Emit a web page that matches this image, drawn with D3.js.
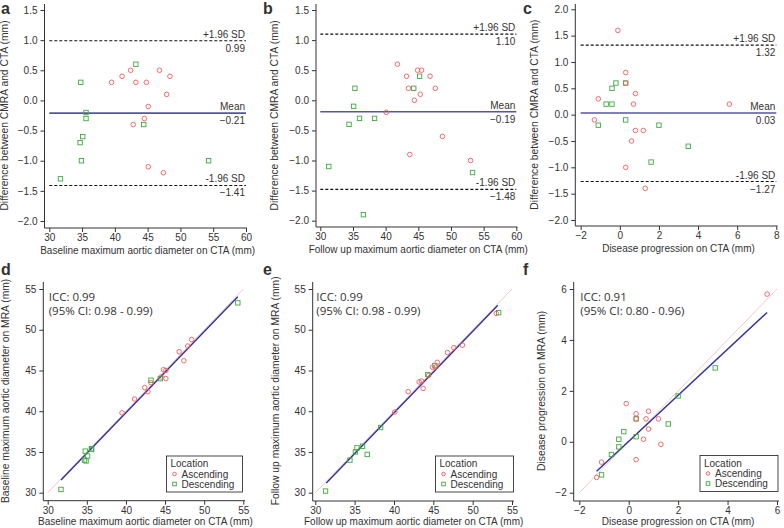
<!DOCTYPE html>
<html><head><meta charset="utf-8">
<script src="https://cdn.jsdelivr.net/npm/d3@7"></script>
<style>
body{margin:0;background:#fff;}
svg{display:block;}
text{font-family:"Liberation Sans",Arial,sans-serif;fill:#333;}
</style></head>
<body>
<svg id="c" width="784" height="528"></svg>
<script>
// ---------- DATA ----------
// Panel a: Bland-Altman baseline
const aAscX = [39.5,41.1,42.4,43.2,44.8,46.8,48.4,47.9,45.1,44.5,42.8,45.1,47.4];
const aAscY = [0.3,0.4,0.5,0.3,0.3,0.5,0.4,0.1,-0.1,-0.3,-0.4,-1.1,-1.2];
const aDesX = [34.8,43.2,35.6,35.6,35.1,34.7,34.9,31.7,44.4,54.3];
const aDesY = [0.3,0.6,-0.2,-0.3,-0.6,-0.7,-1.0,-1.3,-0.4,-1.0];
const aLimits = [0.99,-0.21,-1.41];
// Panel b: Bland-Altman follow up
const bAscX = [41.8,43.2,43.5,44.9,45.5,46.8,47.6,45.3,44.4,40.1,48.7,43.7,53.0];
const bAscY = [0.6,0.4,0.2,0.5,0.5,0.4,0.2,0.1,0.0,-0.2,-0.6,-0.9,-1.0];
const bDesX = [35.3,45.2,44.3,35.1,36.0,38.3,34.4,31.3,53.3,36.6];
const bDesY = [0.2,0.4,0.2,-0.1,-0.3,-0.3,-0.4,-1.1,-1.2,-1.9];
const bLimits = [1.10,-0.19,-1.48];
// Panel c: Bland-Altman progression
const cAscX = [-0.1,0.3,0.3,0.8,-1.1,0.7,-1.3,0.8,1.2,0.6,0.3,1.3,5.6];
const cAscY = [1.6,0.8,0.6,0.4,0.3,0.2,-0.1,-0.3,-0.3,-0.5,-1.0,-1.4,0.2];
const cDesX = [-0.2,0.3,-0.4,-0.7,-0.4,-1.1,0.3,2.0,1.6,3.5];
const cDesY = [0.6,0.6,0.5,0.2,0.2,-0.2,-0.1,-0.2,-0.9,-0.6];
const cLimits = [1.32,0.03,-1.27];
// Panel d: correlation baseline
const dAscX = [39.5,41.1,42.4,43.2,44.8,46.8,48.4,47.9,45.1,44.5,42.8,45.1,47.4];
const dAscY = [39.8,41.5,42.9,43.5,45.1,47.3,48.8,48.0,45.0,44.2,42.4,44.0,46.2];
const dDesX = [34.8,43.2,35.6,35.6,35.1,34.7,34.9,31.7,44.4,54.3];
const dDesY = [35.1,43.8,35.4,35.3,34.5,34.0,33.9,30.4,44.0,53.3];
const dFitX = [31.7,54.3], dFitY = [31.55,54.06];
const dIdent = [30,55];
const dICC = ["ICC: 0.99","(95% CI: 0.98 - 0.99)"];
// Panel e: correlation follow up
const eAscX = [41.8,43.2,43.5,44.9,45.5,46.8,47.6,45.3,44.4,40.1,48.7,43.7,53.0];
const eAscY = [42.4,43.6,43.7,45.4,46.0,47.2,47.8,45.4,44.4,39.9,48.1,42.8,52.0];
const eDesX = [35.3,45.2,44.3,35.1,36.0,38.3,34.4,31.3,53.3,36.6];
const eDesY = [35.5,45.6,44.5,35.0,35.7,38.0,34.0,30.2,52.1,34.7];
const eFitX = [31.4,53.2], eFitY = [31.2,53.0];
const eIdent = [30,55];
const eICC = ["ICC: 0.99","(95% CI: 0.98 - 0.99)"];
// Panel f: correlation progression
const fAscX = [-0.1,0.3,0.3,0.8,-1.1,0.7,-1.3,0.8,1.2,0.6,0.3,1.3,5.6];
const fAscY = [1.5,1.1,0.9,1.2,-0.8,0.9,-1.4,0.5,0.9,0.1,-0.7,-0.1,5.8];
const fDesX = [-0.2,0.3,-0.4,-0.7,-0.4,-1.1,0.3,2.0,1.6,3.5];
const fDesY = [0.4,0.9,0.1,-0.5,-0.2,-1.3,0.2,1.8,0.7,2.9];
const fFitX = [-1.3,5.6], fFitY = [-1.16,5.08];
const fIdent = [-2,6];
const fICC = ["ICC: 0.91","(95% CI: 0.80 - 0.96)"];
// Tick labels
const ticksX_ab = [30,35,40,45,50,55,60];
const ticksY_ab = [-2.0,-1.5,-1.0,-0.5,0.0,0.5,1.0,1.5];
const ticksX_c = [-2,0,2,4,6,8];
const ticksY_c = [-2.0,-1.5,-1.0,-0.5,0.0,0.5,1.0,1.5,2.0];
const ticks_de = [30,35,40,45,50,55];
const ticks_f = [-2,0,2,4,6];
const limitLabels = ["+1.96 SD","Mean","-1.96 SD"];
const legendTitle = "Location";
const legendItems = ["Ascending","Descending"];

// ---------- STYLE ----------
const RED = "#f25c5c", GREEN = "#3fa83f";
const svg = d3.select("#c");

function panel(o){
  const g = svg.append("g");
  const x = d3.scaleLinear().domain(o.xd).range(o.xr);
  const y = d3.scaleLinear().domain(o.yd).range(o.yr);
  // axis lines (L shape)
  g.append("line").attr("x1",o.ax).attr("x2",o.ax).attr("y1",o.top).attr("y2",o.bottom)
    .attr("stroke","#333").attr("stroke-width",1);
  g.append("line").attr("x1",o.ax).attr("x2",o.right).attr("y1",o.bottom).attr("y2",o.bottom)
    .attr("stroke","#333").attr("stroke-width",1);
  // axes
  const xa = g.append("g").attr("transform",`translate(0,${o.bottom})`)
    .call(d3.axisBottom(x).tickValues(o.xt).tickFormat(o.xf).tickSize(4).tickSizeOuter(0).tickPadding(2));
  const ya = g.append("g").attr("transform",`translate(${o.ax},0)`)
    .call(d3.axisLeft(y).tickValues(o.yt).tickFormat(o.yf).tickSize(4).tickSizeOuter(0).tickPadding(3));
  [xa,ya].forEach(a=>{
    a.select(".domain").remove();
    a.selectAll("line").attr("stroke","#333");
    a.selectAll("text").style("font-size","10px").attr("fill","#333");
  });
  // titles
  g.append("text").attr("x",(o.xr[0]+o.xr[1])/2).attr("y",o.bottom+o.tdy)
    .attr("text-anchor","middle").style("font-size","10px").text(o.xtitle);
  g.append("text").attr("transform",`translate(${o.ytx},${(o.yr[0]+o.yr[1])/2}) rotate(-90)`)
    .attr("text-anchor","middle").style("font-size","10.3px").text(o.ytitle);
  // panel letter
  g.append("text").attr("x",o.lx).attr("y",o.ly).style("font-size","16px").style("font-weight","bold")
    .attr("fill","#000").text(o.letter);

  if(o.limits){
    o.limits.forEach((v,i)=>{
      const mean = i===1;
      g.append("line").attr("x1",o.xr[0]).attr("x2",o.xr[1]).attr("y1",y(v)).attr("y2",y(v))
        .attr("stroke",mean?"#5555a8":"#111").attr("stroke-width",mean?1.6:1.1)
        .attr("stroke-dasharray",mean?null:"3,2");
      g.append("text").attr("x",o.xr[1]-1).attr("y",y(v)-3).attr("text-anchor","end")
        .style("font-size","10px").text(limitLabels[i]);
      g.append("text").attr("x",o.xr[1]-1).attr("y",y(v)+11).attr("text-anchor","end")
        .style("font-size","10px").text(d3.format(".2f")(v));
    });
  }
  if(o.ident){
    g.append("line").attr("x1",x(o.ident[0])).attr("y1",y(o.ident[0]))
      .attr("x2",x(o.ident[1])).attr("y2",y(o.ident[1]))
      .attr("stroke","#f2c9c9").attr("stroke-width",1);
    g.append("line").attr("x1",x(o.fitX[0])).attr("y1",y(o.fitY[0]))
      .attr("x2",x(o.fitX[1])).attr("y2",y(o.fitY[1]))
      .attr("stroke","#2f2fa0").attr("stroke-width",1.4);
    const t = g.append("text").attr("x",o.xr[0]+1).attr("y",o.yr[1]+12)
      .style("font-family","'Open Sans',sans-serif").style("font-size","11.5px").attr("fill","#222");
    t.append("tspan").attr("x",o.xr[0]+1).text(o.icc[0]);
    t.append("tspan").attr("x",o.xr[0]+1).attr("dy",13.5).text(o.icc[1]);
  }
  // points
  g.selectAll(".sq").data(d3.zip(o.dx,o.dy)).join("rect")
    .attr("x",d=>x(d[0])-2.2).attr("y",d=>y(d[1])-2.2).attr("width",4.4).attr("height",4.4)
    .attr("fill","none").attr("stroke",GREEN).attr("stroke-width",0.9);
  g.selectAll(".ci").data(d3.zip(o.axs,o.ays)).join("circle")
    .attr("cx",d=>x(d[0])).attr("cy",d=>y(d[1])).attr("r",2.3)
    .attr("fill","none").attr("stroke",RED).attr("stroke-width",0.9);
  // legend
  if(o.legend){
    const [lx0,ly0,lw,lh] = o.legend;
    g.append("rect").attr("x",lx0).attr("y",ly0).attr("width",lw).attr("height",lh)
      .attr("fill","#fff").attr("stroke","#333").attr("stroke-width",0.9);
    g.append("text").attr("x",lx0+4).attr("y",ly0+11).style("font-size","10px").text(legendTitle);
    legendItems.forEach((s,i)=>{
      const cy = ly0+18+i*10;
      if(i===0) g.append("circle").attr("cx",lx0+8).attr("cy",cy).attr("r",1.8)
        .attr("fill","none").attr("stroke",RED).attr("stroke-width",0.9);
      else g.append("rect").attr("x",lx0+6.2).attr("y",cy-1.8).attr("width",3.6).attr("height",3.6)
        .attr("fill","none").attr("stroke",GREEN).attr("stroke-width",0.9);
      g.append("text").attr("x",lx0+15).attr("y",cy+3.5).style("font-size","10px").text(s);
    });
  }
}

const f1 = d3.format(".1f"), f0 = d3.format("d");
const yt1 = "Difference between CMRA and CTA (mm)";

panel({letter:"a",lx:1,ly:14,xd:[30,60],xr:[49.3,246],yd:[-2,1.5],yr:[221,10],
  ax:44.5,top:4,bottom:228,right:247,xt:ticksX_ab,yt:ticksY_ab,xf:f0,yf:f1,tdy:26,
  xtitle:"Baseline maximum aortic diameter on CTA (mm)",ytitle:yt1,ytx:8,
  limits:aLimits,axs:aAscX,ays:aAscY,dx:aDesX,dy:aDesY});
panel({letter:"b",lx:263,ly:14,xd:[30,60],xr:[320.3,516.3],yd:[-2,1.5],yr:[220.7,10],
  ax:316,top:4,bottom:227,right:517.5,xt:ticksX_ab,yt:ticksY_ab,xf:f0,yf:f1,tdy:26,
  xtitle:"Follow up maximum aortic diameter on CTA (mm)",ytitle:yt1,ytx:278,
  limits:bLimits,axs:bAscX,ays:bAscY,dx:bDesX,dy:bDesY});
panel({letter:"c",lx:523,ly:14,xd:[-2,8],xr:[580.7,776.3],yd:[-2,2],yr:[220,9.3],
  ax:575.3,top:4,bottom:226,right:777.5,xt:ticksX_c,yt:ticksY_c,xf:f0,yf:f1,tdy:26,
  xtitle:"Disease progression on CTA (mm)",ytitle:yt1,ytx:538,
  limits:cLimits,axs:cAscX,ays:cAscY,dx:cDesX,dy:cDesY});
panel({letter:"d",lx:1,ly:275,xd:[30,55],xr:[47.7,243.3],yd:[30,55],yr:[492.7,289],
  ax:43.3,top:282,bottom:500.7,right:245,xt:ticks_de,yt:ticks_de,xf:f0,yf:f0,tdy:24,
  xtitle:"Baseline maximum aortic diameter on CTA (mm)",ytitle:"Baseline maximum aortic diameter on MRA (mm)",ytx:9,
  ident:dIdent,fitX:dFitX,fitY:dFitY,icc:dICC,axs:dAscX,ays:dAscY,dx:dDesX,dy:dDesY,legend:[166.5,456,76,36]});
panel({letter:"e",lx:263,ly:275,xd:[30,55],xr:[315.3,512],yd:[30,55],yr:[492.7,289],
  ax:312.7,top:282,bottom:501,right:514,xt:ticks_de,yt:ticks_de,xf:f0,yf:f0,tdy:23.5,
  xtitle:"Follow up maximum aortic diameter on CTA (mm)",ytitle:"Follow up maximum aortic diameter on MRA (mm)",ytx:279,
  ident:eIdent,fitX:eFitX,fitY:eFitY,icc:eICC,axs:eAscX,ays:eAscY,dx:eDesX,dy:eDesY,legend:[435.5,456,78,36]});
panel({letter:"f",lx:523,ly:275,xd:[-2,6],xr:[579.3,777],yd:[-2,6],yr:[492.7,289],
  ax:573.7,top:282,bottom:501,right:779,xt:ticks_f,yt:ticks_f,xf:f0,yf:f0,tdy:23.5,
  xtitle:"Disease progression on CTA (mm)",ytitle:"Disease progression on MRA (mm)",ytx:545,
  ident:fIdent,fitX:fFitX,fitY:fFitY,icc:fICC,axs:fAscX,ays:fAscY,dx:fDesX,dy:fDesY,legend:[700,455.5,78,36]});
</script>
</body></html>
